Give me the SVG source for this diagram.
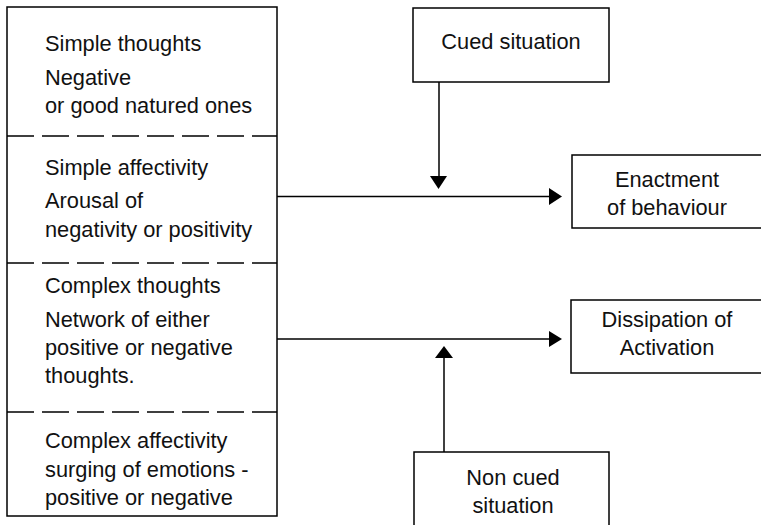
<svg xmlns="http://www.w3.org/2000/svg" width="761" height="525" viewBox="0 0 761 525">
  <defs>
    <style>
      .box { fill: #ffffff; stroke: #000000; stroke-width: 1.5; }
      .dash { fill: none; stroke: #000000; stroke-width: 1.5; stroke-dasharray: 27 8; }
      .conn { fill: none; stroke: #000000; stroke-width: 1.5; }
      .head { fill: #000000; stroke: none; }
      text { font-family: "Liberation Sans", Arial, sans-serif; font-size: 21.8px; fill: #111111; }
      .c { text-anchor: middle; }
    </style>
  </defs>
  <rect x="0" y="0" width="761" height="525" fill="#ffffff"/>

  <g id="left-stack">
    <rect class="box" x="7" y="7" width="270" height="509"/>
    <line class="dash" x1="7" y1="136" x2="277" y2="136"/>
    <line class="dash" x1="7" y1="263" x2="277" y2="263"/>
    <line class="dash" x1="7" y1="412" x2="277" y2="412"/>
    <g id="simple-thoughts">
      <text x="45" y="51">Simple thoughts</text>
      <text x="45" y="85">Negative</text>
      <text x="45" y="113">or good natured ones</text>
    </g>
    <g id="simple-affectivity">
      <text x="45" y="175">Simple affectivity</text>
      <text x="45" y="208">Arousal of</text>
      <text x="45" y="237">negativity or positivity</text>
    </g>
    <g id="complex-thoughts">
      <text x="45" y="293">Complex thoughts</text>
      <text x="45" y="327">Network of either</text>
      <text x="45" y="355">positive or negative</text>
      <text x="45" y="383">thoughts.</text>
    </g>
    <g id="complex-affectivity">
      <text x="45" y="448">Complex affectivity</text>
      <text x="45" y="477">surging of emotions -</text>
      <text x="45" y="505">positive or negative</text>
    </g>
  </g>

  <g id="cued-situation">
    <rect class="box" x="413" y="8" width="196" height="74"/>
    <text class="c" x="511" y="49">Cued situation</text>
  </g>

  <g id="enactment">
    <rect class="box" x="572" y="155" width="195" height="73"/>
    <text class="c" x="667" y="187">Enactment</text>
    <text class="c" x="667" y="215">of behaviour</text>
  </g>

  <g id="dissipation">
    <rect class="box" x="571" y="300" width="196" height="73"/>
    <text class="c" x="667" y="327">Dissipation of</text>
    <text class="c" x="667" y="355">Activation</text>
  </g>

  <g id="non-cued-situation">
    <rect class="box" x="414" y="452" width="195" height="80"/>
    <text class="c" x="513" y="485">Non cued</text>
    <text class="c" x="513" y="513">situation</text>
  </g>

  <g id="connectors">
    <line class="conn" x1="439" y1="82" x2="439" y2="177"/>
    <polygon class="head" points="430,176 447,176 438.5,189"/>
    <line class="conn" x1="277" y1="196.5" x2="551" y2="196.5"/>
    <polygon class="head" points="549,188 549,205 562,196.5"/>
    <line class="conn" x1="277" y1="339" x2="551" y2="339"/>
    <polygon class="head" points="549,331 549,347 562,339"/>
    <line class="conn" x1="444" y1="452" x2="444" y2="357"/>
    <polygon class="head" points="435,358 453,358 444,346"/>
  </g>
</svg>
